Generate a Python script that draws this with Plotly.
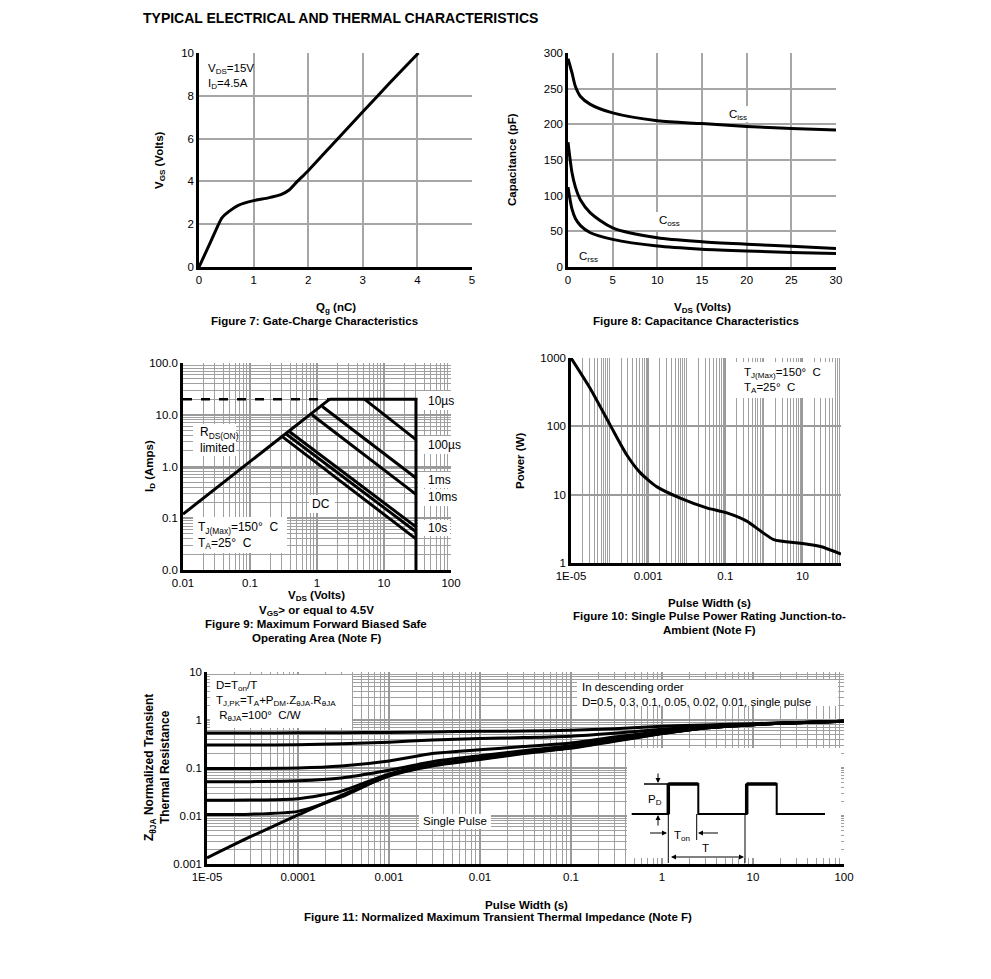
import plotly.graph_objects as go

# ---------------- DATA ----------------
# Figure 7: gate charge
qg_nc = [0, 0.2, 0.42, 0.55, 0.72, 1.0, 1.27, 1.5, 1.65, 1.8, 2.0, 2.5, 3.0, 3.5, 4.02]
vgs_v = [0, 1.1, 2.3, 2.6, 2.88, 3.1, 3.23, 3.38, 3.6, 4.0, 4.5, 5.88, 7.25, 8.62, 10.0]

# Figure 8: capacitance
vds_v = [0, 0.45, 0.83, 1.4, 2.5, 5, 10, 15, 20, 25, 30]
ciss_pf = [292, 272, 253, 239, 228, 216, 205, 201, 197, 194, 192]
coss_pf = [175, 132, 112, 94, 76, 55, 41, 35.5, 32, 29, 26]
crss_pf = [112, 81, 68, 58, 48, 38.7, 29.4, 25, 22.4, 20.5, 19]

# Figure 9: safe operating area
soa_rds_v = [0.01, 1.55]
soa_rds_i = [0.12, 20]
soa_dash_v = [0.01, 1.55]
soa_dash_i = [20, 20]
soa_lim_v = [1.55, 30, 30]
soa_lim_i = [20, 20, 0.01]
soa_10us_v = [5.1, 30]
soa_10us_i = [20, 3.3]
soa_100us_v = [1.2, 30]
soa_100us_i = [14.4, 0.6]
soa_1ms_v = [0.84, 30]
soa_1ms_i = [10, 0.29]
soa_10ms_v = [0.39, 30]
soa_10ms_i = [4.7, 0.068]
soa_10s_v = [0.35, 30]
soa_10s_i = [4.2, 0.055]
soa_dc_v = [0.31, 30]
soa_dc_i = [3.7, 0.04]

# Figure 10: single pulse power
pw_t = [1e-5, 3.1e-5, 1.03e-4, 2.8e-4, 6.2e-4, 1.7e-3, 6.8e-3, 0.033, 0.11, 0.36, 1.8, 8.9, 29.5, 100]
pw_p = [1000, 363, 105, 38, 21, 13, 8.9, 6.4, 5.4, 4.1, 2.2, 1.95, 1.74, 1.35]

# Figure 11: transient thermal impedance
zt_t = [1e-5, 3e-5, 1e-4, 3e-4, 1e-3, 3e-3, 1e-2, 3e-2, 0.1, 0.3, 1, 3, 10, 30, 100]
z_d050 = [0.535, 0.535, 0.54, 0.545, 0.55, 0.565, 0.58, 0.59, 0.61, 0.66, 0.74, 0.79, 0.84, 0.89, 0.94]
z_d030 = [0.30, 0.30, 0.305, 0.32, 0.345, 0.385, 0.41, 0.43, 0.46, 0.53, 0.64, 0.74, 0.82, 0.88, 0.94]
z_d010 = [0.098, 0.098, 0.10, 0.11, 0.14, 0.20, 0.24, 0.28, 0.33, 0.44, 0.58, 0.71, 0.81, 0.88, 0.94]
z_d005 = [0.052, 0.052, 0.054, 0.062, 0.09, 0.135, 0.18, 0.23, 0.29, 0.40, 0.54, 0.69, 0.80, 0.88, 0.94]
z_d002 = [0.0213, 0.0215, 0.023, 0.033, 0.075, 0.12, 0.16, 0.21, 0.27, 0.38, 0.53, 0.69, 0.80, 0.88, 0.94]
z_d001 = [0.0107, 0.0109, 0.0125, 0.025, 0.07, 0.115, 0.155, 0.205, 0.265, 0.37, 0.52, 0.68, 0.80, 0.88, 0.94]
z_single = [0.00134, 0.0037, 0.0105, 0.027, 0.068, 0.11, 0.15, 0.20, 0.26, 0.36, 0.52, 0.68, 0.80, 0.88, 0.94]

# ---------------- LAYOUT HELPERS ----------------
W, H = 991, 979
FONT = "Liberation Sans, Arial, sans-serif"
TICK = 11.5
CAP = 11.5


def px(x):
    return x / W


def py(y):
    return 1 - y / H


def dom_x(a, b):
    return [px(a), px(b)]


def dom_y(top, bottom):
    return [py(bottom), py(top)]


def lin_axis(dom, rng, dtick, anchor):
    return dict(domain=dom, range=rng, dtick=dtick, anchor=anchor, automargin=False,
                showline=True, linecolor="black", linewidth=2.5,
                showgrid=True, gridcolor="#a6a6a6", gridwidth=2,
                zeroline=False, ticks="", tickfont=dict(size=TICK, family=FONT, color="black"))


def log_axis(dom, lo, hi, anchor, vals, labels, minor=True, extra=()):
    d = dict(domain=dom, type="log", range=[lo, hi], anchor=anchor, automargin=False,
             tickmode="array", tickvals=vals, ticktext=labels,
             showline=True, linecolor="black", linewidth=2.5,
             showgrid=True, gridcolor="#9a9a9a", gridwidth=1.6,
             zeroline=False, ticks="", tickfont=dict(size=TICK, family=FONT, color="black"))
    if minor:
        mv = [k * 10 ** e for e in range(lo, hi) for k in range(2, 10)] + list(extra)
        d["minor"] = dict(tickmode="array", tickvals=mv, showgrid=True,
                          gridcolor="#a0a0a0", gridwidth=1.2, ticks="")
    return d


fig = go.Figure()
LINE = dict(color="black", width=3)

# Fig 7
fig.add_trace(go.Scatter(x=qg_nc, y=vgs_v, mode="lines", line=dict(color="black", width=3, shape="spline", smoothing=0.6),
                         xaxis="x", yaxis="y", showlegend=False))
# Fig 8
for ys in (ciss_pf, coss_pf, crss_pf):
    fig.add_trace(go.Scatter(x=vds_v, y=ys, mode="lines", line=dict(color="black", width=3, shape="spline", smoothing=0.8),
                             xaxis="x2", yaxis="y2", showlegend=False))
# Fig 9
for xs, ys in ((soa_rds_v, soa_rds_i), (soa_lim_v, soa_lim_i), (soa_10us_v, soa_10us_i),
               (soa_100us_v, soa_100us_i), (soa_1ms_v, soa_1ms_i), (soa_10ms_v, soa_10ms_i),
               (soa_10s_v, soa_10s_i), (soa_dc_v, soa_dc_i)):
    fig.add_trace(go.Scatter(x=xs, y=ys, mode="lines", line=LINE, xaxis="x3", yaxis="y3", showlegend=False))
fig.add_trace(go.Scatter(x=soa_dash_v, y=soa_dash_i, mode="lines", line=dict(color="black", width=2.5, dash="dash"),
                         xaxis="x3", yaxis="y3", showlegend=False))
# Fig 10
fig.add_trace(go.Scatter(x=pw_t, y=pw_p, mode="lines", line=dict(color="black", width=3, shape="spline", smoothing=0.6),
                         xaxis="x4", yaxis="y4", showlegend=False))
# Fig 11
for zs in (z_d050, z_d030, z_d010, z_d005, z_d002, z_d001, z_single):
    fig.add_trace(go.Scatter(x=zt_t, y=zs, mode="lines", line=dict(color="black", width=3, shape="spline", smoothing=0.6),
                             xaxis="x5", yaxis="y5", showlegend=False))

layout = dict(
    width=W, height=H, margin=dict(l=0, r=0, t=0, b=0, autoexpand=False),
    paper_bgcolor="white", plot_bgcolor="white", showlegend=False,
    font=dict(family=FONT, size=11, color="black"),
    xaxis=lin_axis(dom_x(199, 472), [0, 5], 1, "y"),
    yaxis=lin_axis(dom_y(53, 267), [0, 10], 2, "x"),
    xaxis2=lin_axis(dom_x(568, 836), [0, 30], 5, "y2"),
    yaxis2=lin_axis(dom_y(53, 267), [0, 300], 50, "x2"),
    xaxis3=log_axis(dom_x(183, 451), -2, 2, "y3", [0.01, 0.1, 1, 10, 100], ["0.01", "0.1", "1", "10", "100"]),
    yaxis3=log_axis(dom_y(363, 570), -2, 2, "x3", [0.01, 0.1, 1, 10, 100], ["0.0", "0.1", "1.0", "10.0", "100.0"]),
    xaxis4=log_axis(dom_x(571, 841), -5, 2, "y4", [1e-5, 1e-3, 0.1, 10], ["1E-05", "0.001", "0.1", "10"],
                    extra=(1e-4, 1e-2, 1, 100)),
    yaxis4=log_axis(dom_y(358, 563), 0, 3, "x4", [1, 10, 100, 1000], ["1", "10", "100", "1000"], minor=False),
    xaxis5=log_axis(dom_x(207, 844), -5, 2, "y5", [1e-5, 1e-4, 1e-3, 1e-2, 0.1, 1, 10, 100],
                    ["1E-05", "0.0001", "0.001", "0.01", "0.1", "1", "10", "100"]),
    yaxis5=log_axis(dom_y(672, 864), -3, 1, "x5", [0.001, 0.01, 0.1, 1, 10], ["0.001", "0.01", "0.1", "1", "10"]),
)
fig.update_layout(**layout)

shapes = []


def wbox(x0, y0, x1, y1):
    shapes.append(dict(type="rect", xref="paper", yref="paper", x0=px(x0), x1=px(x1), y0=py(y1), y1=py(y0),
                       fillcolor="white", line=dict(width=0), layer="above"))


# white label boxes
wbox(201, 55, 252, 92)       # fig7 text
wbox(726, 106, 752, 122)     # Ciss
wbox(655, 212, 684, 230)     # Coss
wbox(193, 424, 236, 456)     # Rds
wbox(193, 517, 287, 553)     # Tj fig9
wbox(309, 495, 335, 513)     # DC
wbox(418, 391, 456, 410)     # 10us
wbox(418, 436, 462, 454)     # 100us
wbox(418, 472, 452, 488)     # 1ms
wbox(418, 489, 458, 506)     # 10ms
wbox(418, 520, 450, 536)     # 10s
wbox(736, 362, 834, 398)     # Tj fig10
wbox(210, 675, 352, 728)     # fig11 formula
wbox(577, 680, 838, 706)     # descending
wbox(419, 814, 491, 829)     # single pulse
wbox(627, 748, 841, 858)     # pulse inset

# pulse inset drawing (pixel coordinates of the illustration)
pulse_x = [631.7, 668.3, 668.3, 698.3, 698.3, 746.7, 746.7, 776.7, 776.7, 825]
pulse_y = [814, 814, 784, 784, 814, 814, 784, 784, 814, 814]
path = "M " + " L ".join(f"{px(a)},{py(b)}" for a, b in zip(pulse_x, pulse_y))
shapes.append(dict(type="path", xref="paper", yref="paper", path=path, line=dict(color="black", width=2), layer="above"))
for (a0, b0, a1, b1, w) in [(668.3, 814, 668.3, 784, 3.5), (668.3, 784, 698.3, 784, 3.5),
                             (746.7, 814, 746.7, 784, 3.5), (746.7, 784, 776.7, 784, 3.5),
                             (644, 784, 668, 784, 1.5), (668.3, 814, 668.3, 863, 1),
                             (696.7, 814, 696.7, 840, 1), (745, 814, 745, 863, 1)]:
    shapes.append(dict(type="line", xref="paper", yref="paper", x0=px(a0), y0=py(b0), x1=px(a1), y1=py(b1),
                       line=dict(color="black", width=w), layer="above"))
fig.update_layout(shapes=shapes)

ann = []


def text(x, y, s, size=11, xanchor="center", yanchor="middle", bold=False, align="center", angle=0):
    if bold:
        s = "<b>" + s + "</b>"
    ann.append(dict(x=px(x), y=py(y), xref="paper", yref="paper", text=s, showarrow=False,
                    xanchor=xanchor, yanchor=yanchor, align=align, textangle=angle,
                    font=dict(size=size, family=FONT, color="black")))


def arrow(xh, yh, ax, ay, side="end"):
    ann.append(dict(x=px(xh), y=py(yh), xref="paper", yref="paper", ax=ax, ay=ay, axref="pixel", ayref="pixel",
                    text=" ", showarrow=True, arrowhead=2, arrowsize=1, arrowwidth=1, arrowcolor="black",
                    arrowside=side, font=dict(size=2)))


text(141, 18, "TYPICAL ELECTRICAL AND THERMAL CHARACTERISTICS", size=14, xanchor="left", bold=True)

# Fig 7
text(206, 76, "V<sub>DS</sub>=15V<br>I<sub>D</sub>=4.5A", size=11.5, xanchor="left", align="left")
text(160, 160, "V<sub>GS</sub> (Volts)", size=CAP, bold=True, angle=-90)
text(336, 308, "Q<sub>g</sub> (nC)", size=CAP, bold=True)
text(314, 321, "Figure 7: Gate-Charge Characteristics", size=CAP, bold=True)

# Fig 8
text(738, 115, "C<sub>iss</sub>", size=11.5)
text(669, 221, "C<sub>oss</sub>", size=11.5)
text(588, 257, "C<sub>rss</sub>", size=11.5)
text(512, 160, "Capacitance (pF)", size=CAP, bold=True, angle=-90)
text(702, 308, "V<sub>DS</sub> (Volts)", size=CAP, bold=True)
text(696, 321, "Figure 8: Capacitance Characteristics", size=CAP, bold=True)

# Fig 9
text(198, 440, "R<sub>DS(ON)</sub><br>limited", size=12, xanchor="left", align="left")
text(196, 535, "T<sub>J(Max)</sub>=150°  C<br>T<sub>A</sub>=25°  C", size=12, xanchor="left", align="left")
text(321, 504, "DC", size=12)
text(426, 401, "10µs", size=12, xanchor="left")
text(426, 445, "100µs", size=12, xanchor="left")
text(426, 480, "1ms", size=12, xanchor="left")
text(426, 497, "10ms", size=12, xanchor="left")
text(426, 528, "10s", size=12, xanchor="left")
text(150, 466, "I<sub>D</sub> (Amps)", size=CAP, bold=True, angle=-90)
text(316, 596, "V<sub>DS</sub> (Volts)", size=CAP, bold=True)
text(316, 611, "V<sub>GS</sub>> or equal to 4.5V", size=CAP, bold=True)
text(316, 624, "Figure 9: Maximum Forward Biased Safe", size=CAP, bold=True)
text(316, 638, "Operating Area (Note F)", size=CAP, bold=True)

# Fig 10
text(742, 380, "T<sub>J(Max)</sub>=150°  C<br>T<sub>A</sub>=25°  C", size=11.5, xanchor="left", align="left")
text(520, 461, "Power (W)", size=CAP, bold=True, angle=-90)
text(709, 603, "Pulse Width (s)", size=CAP, bold=True)
text(709, 616, "Figure 10: Single Pulse Power Rating Junction-to-", size=CAP, bold=True)
text(709, 630, "Ambient (Note F)", size=CAP, bold=True)

# Fig 11
text(214, 701, "D=T<sub>on</sub>/T<br>T<sub>J,PK</sub>=T<sub>A</sub>+P<sub>DM</sub>.Z<sub>θJA</sub>.R<sub>θJA</sub><br> R<sub>θJA</sub>=100°  C/W",
     size=11.5, xanchor="left", align="left")
text(580, 694, "In descending order<br>D=0.5, 0.3, 0.1, 0.05, 0.02, 0.01, single pulse", size=11.5,
     xanchor="left", align="left")
text(455, 821, "Single Pulse", size=11.5)
text(157, 768, "Z<sub>θJA</sub> Normalized Transient<br>Thermal Resistance", size=12, bold=True, angle=-90)
text(526, 905, "Pulse Width (s)", size=CAP, bold=True)
text(498, 917, "Figure 11: Normalized Maximum Transient Thermal Impedance (Note F)", size=CAP, bold=True)
text(655, 800, "P<sub>D</sub>", size=11.5)
text(682, 836, "T<sub>on</sub>", size=11.5)
text(705, 848, "T", size=11.5)
arrow(658, 783, 0, -12)
arrow(658, 815, 0, 13)
arrow(667, 833, -19, 0)
arrow(698, 833, 22, 0)
arrow(744, 857, -75, 0, side="end+start")

fig.update_layout(annotations=ann)
fig.write_html("out.html", config={"displayModeBar": False},
               post_script="document.body.style.margin='0';document.body.style.overflow='hidden';")
